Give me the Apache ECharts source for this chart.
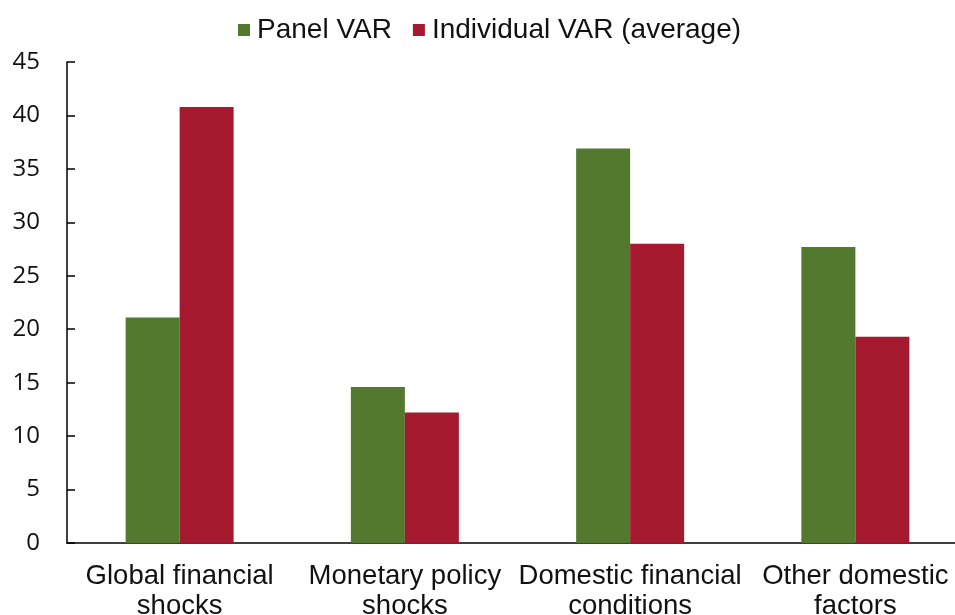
<!DOCTYPE html>
<html>
<head>
<meta charset="utf-8">
<script src="https://cdn.jsdelivr.net/npm/echarts@6/dist/echarts.min.js"></script>
<style>
  html, body { margin: 0; padding: 0; background: #fff; overflow: hidden; }
  /* plot runs slightly past the right edge in the reference */
  #chart { width: 968px; height: 615px; }
</style>
</head>
<body>
<div id="chart"></div>
<script>
// categories and values
const categories = [
  'Global financial\nshocks',
  'Monetary policy\nshocks',
  'Domestic financial\nconditions',
  'Other domestic\nfactors',
]
const panelVar = [21.1, 14.6, 36.9, 27.7]
const individualVar = [40.8, 12.2, 28.0, 19.3]
const yTicks = { min: 0, max: 45, interval: 5 }

const GREEN = '#52792E'
const RED = '#A61A30'
const SANS = '"Liberation Sans", Arial, sans-serif'

const chart = echarts.init(document.getElementById('chart'))
chart.setOption({
  animation: false,
  backgroundColor: '#fff',
  textStyle: { fontFamily: SANS },
  legend: {
    top: 11,
    left: 233,
    itemWidth: 12,
    itemHeight: 12,
    itemGap: 21,
    icon: 'rect',
    textStyle: { color: '#111', fontSize: 28, fontFamily: SANS, padding: [0, 0, 0, 2] },
    data: ['Panel VAR', 'Individual VAR (average)'],
  },
  grid: {
    left: 67,
    right: 0,
    top: 62,
    bottom: 72,
    containLabel: false,
    outerBoundsMode: 'none',
  },
  xAxis: {
    type: 'category',
    data: categories,
    axisLine: { lineStyle: { color: '#000', width: 1.5 } },
    axisTick: { show: false },
    axisLabel: {
      color: '#111',
      fontSize: 27.5,
      fontFamily: SANS,
      lineHeight: 30,
      margin: 18,
      interval: 0,
    },
  },
  yAxis: {
    type: 'value',
    min: yTicks.min,
    max: yTicks.max,
    interval: yTicks.interval,
    axisLine: { show: true, lineStyle: { color: '#000', width: 1.5 } },
    axisTick: { show: true, inside: true, length: 8, lineStyle: { color: '#000', width: 1.5 } },
    splitLine: { show: false },
    axisLabel: {
      color: '#111',
      fontSize: 24,
      fontFamily: '"Open Sans", sans-serif',
      margin: 27,
    },
  },
  series: [
    {
      name: 'Panel VAR',
      type: 'bar',
      data: panelVar,
      barWidth: 54,
      barGap: '0%',
      itemStyle: { color: GREEN },
    },
    {
      name: 'Individual VAR (average)',
      type: 'bar',
      data: individualVar,
      barWidth: 54,
      barGap: '0%',
      itemStyle: { color: RED },
    },
  ],
})
</script>
</body>
</html>
